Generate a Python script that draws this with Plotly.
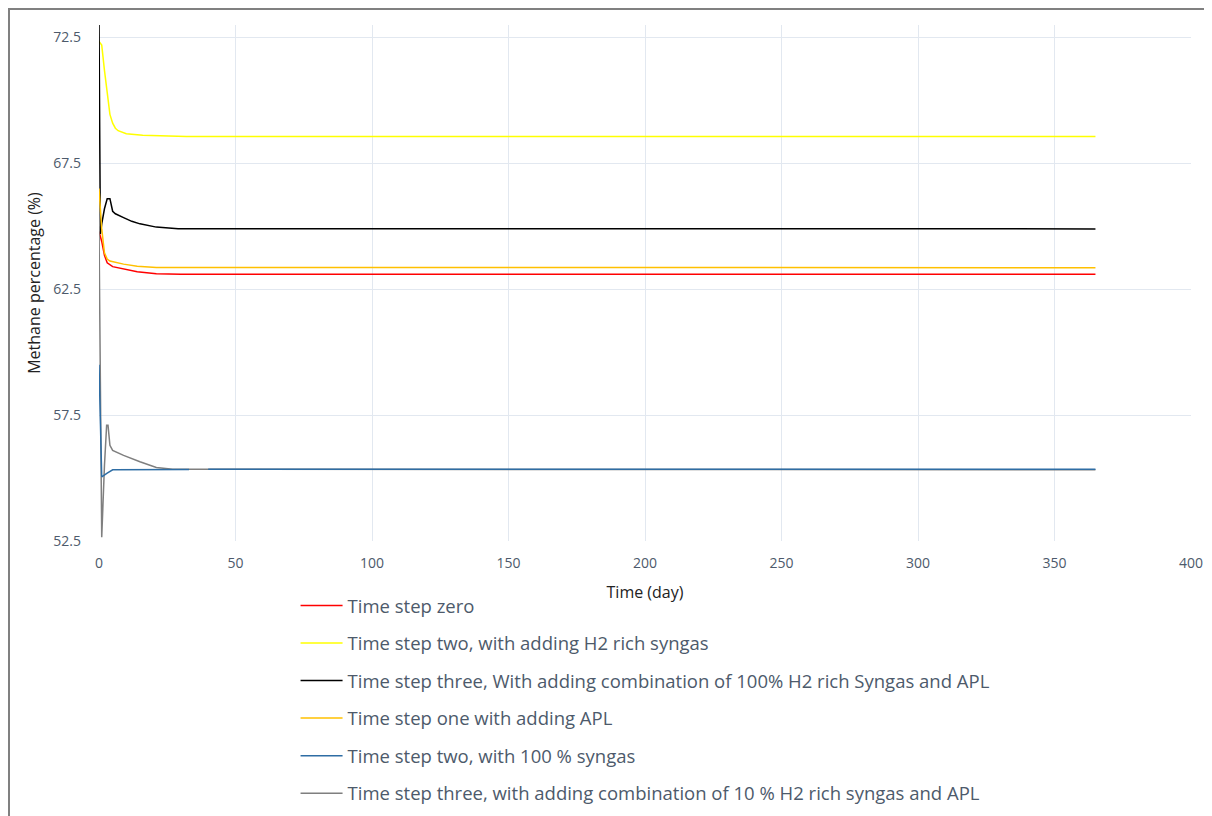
import plotly.graph_objects as go

# ---- data ----
red_days = [0, 1, 2, 3, 5, 9, 14, 21, 30, 365]
red_vals = [64.8, 64.4, 63.85, 63.55, 63.4, 63.3, 63.2, 63.12, 63.1, 63.1]

yellow_days = [0, 1, 2, 3, 4, 5, 6, 7, 10, 16, 32, 365]
yellow_vals = [72.35, 72.2, 71.2, 70.2, 69.45, 69.1, 68.9, 68.8, 68.68, 68.62, 68.57, 68.57]

black_days = [0, 0.5, 1, 2, 3, 4, 5, 6, 9, 12, 15, 21, 29, 365]
black_vals = [73.2, 64.7, 65.1, 65.7, 66.1, 66.1, 65.6, 65.5, 65.35, 65.2, 65.1, 64.97, 64.91, 64.9]

orange_days = [0, 1, 2, 3, 4, 9, 14, 21, 365]
orange_vals = [66.5, 64.9, 63.95, 63.7, 63.62, 63.5, 63.42, 63.37, 63.36]

blue_days = [0, 1, 3, 5, 33, 34, 40, 365]
blue_vals = [59.5, 55.05, 55.2, 55.33, 55.34, None, 55.35, 55.35]

grey_days = [0, 1, 2, 2.8, 3.3, 4, 5, 9, 15, 21, 27, 365]
grey_vals = [65.0, 52.65, 55.5, 57.1, 57.1, 56.3, 56.1, 55.9, 55.65, 55.42, 55.35, 55.33]

names = [
    "Time step zero",
    "Time step two, with adding H2 rich syngas",
    "Time step three, With adding combination of 100% H2 rich Syngas and APL",
    "Time step one with adding APL",
    "Time step two, with 100 % syngas",
    "Time step three, with adding combination of 10 % H2 rich syngas and APL",
]

x_ticks = [0, 50, 100, 150, 200, 250, 300, 350, 400]
y_ticks = [52.5, 57.5, 62.5, 67.5, 72.5]

series = [
    # (days, values, name index, colour)
    (red_days, red_vals, 0, "#FF0000"),
    (yellow_days, yellow_vals, 1, "#FFFF00"),
    (black_days, black_vals, 2, "#000000"),
    (orange_days, orange_vals, 3, "#FFC000"),
    (grey_days, grey_vals, 5, "#7F7F7F"),
    (blue_days, blue_vals, 4, "#2E6DA4"),
]

fig = go.Figure()
for d, v, i, c in series:
    fig.add_trace(go.Scatter(
        x=d, y=v, mode="lines", name=names[i],
        line=dict(color=c, width=1.5),
        legendrank=i + 1, legendgroup="g%d" % i,
        connectgaps=False,
    ))

tick_col = "#4d5a6b"
PW, PH = 1092, 516
fig.update_layout(
    width=1212, height=816,
    paper_bgcolor="white", plot_bgcolor="white",
    margin=dict(l=91, r=29, t=17, b=283, autoexpand=False),
    font=dict(family="Open Sans", size=14, color=tick_col),
    showlegend=True,
    legend=dict(
        x=0.180, y=-0.089, xanchor="left", yanchor="top",
        traceorder="grouped", tracegroupgap=10.5,
        font=dict(size=18.5, color=tick_col),
        itemwidth=42, bgcolor="rgba(0,0,0,0)",
    ),
    xaxis=dict(
        range=[0, 400], tickvals=x_ticks, showgrid=True, automargin=False,
        gridcolor="#E2E8F0", gridwidth=1, zeroline=False, showline=False,
        ticks="", tickfont=dict(size=14, color=tick_col), ticklabelstandoff=12,
        title=dict(text="Time (day)", font=dict(size=16, color="#222222"), standoff=15),
    ),
    yaxis=dict(
        range=[52.5, 73.0], tickvals=y_ticks, ticktext=[str(t) for t in y_ticks],
        showgrid=True, automargin=False, gridcolor="#E2E8F0", gridwidth=1,
        zeroline=False, showline=False,
        ticks="", tickfont=dict(size=14, color=tick_col), ticklabelstandoff=17,
        title=dict(text="Methane percentage (%)", font=dict(size=16, color="#222222"), standoff=8),
    ),
    shapes=[dict(
        type="rect", xref="paper", yref="paper",
        x0=-91 / PW + 1 / PW, x1=(1240 - 91) / PW,
        y0=-300 / PH, y1=1 + 16 / PH,
        line=dict(color="#808080", width=2), fillcolor="rgba(0,0,0,0)", layer="below",
    )],
)

fig.write_html("out.html")
